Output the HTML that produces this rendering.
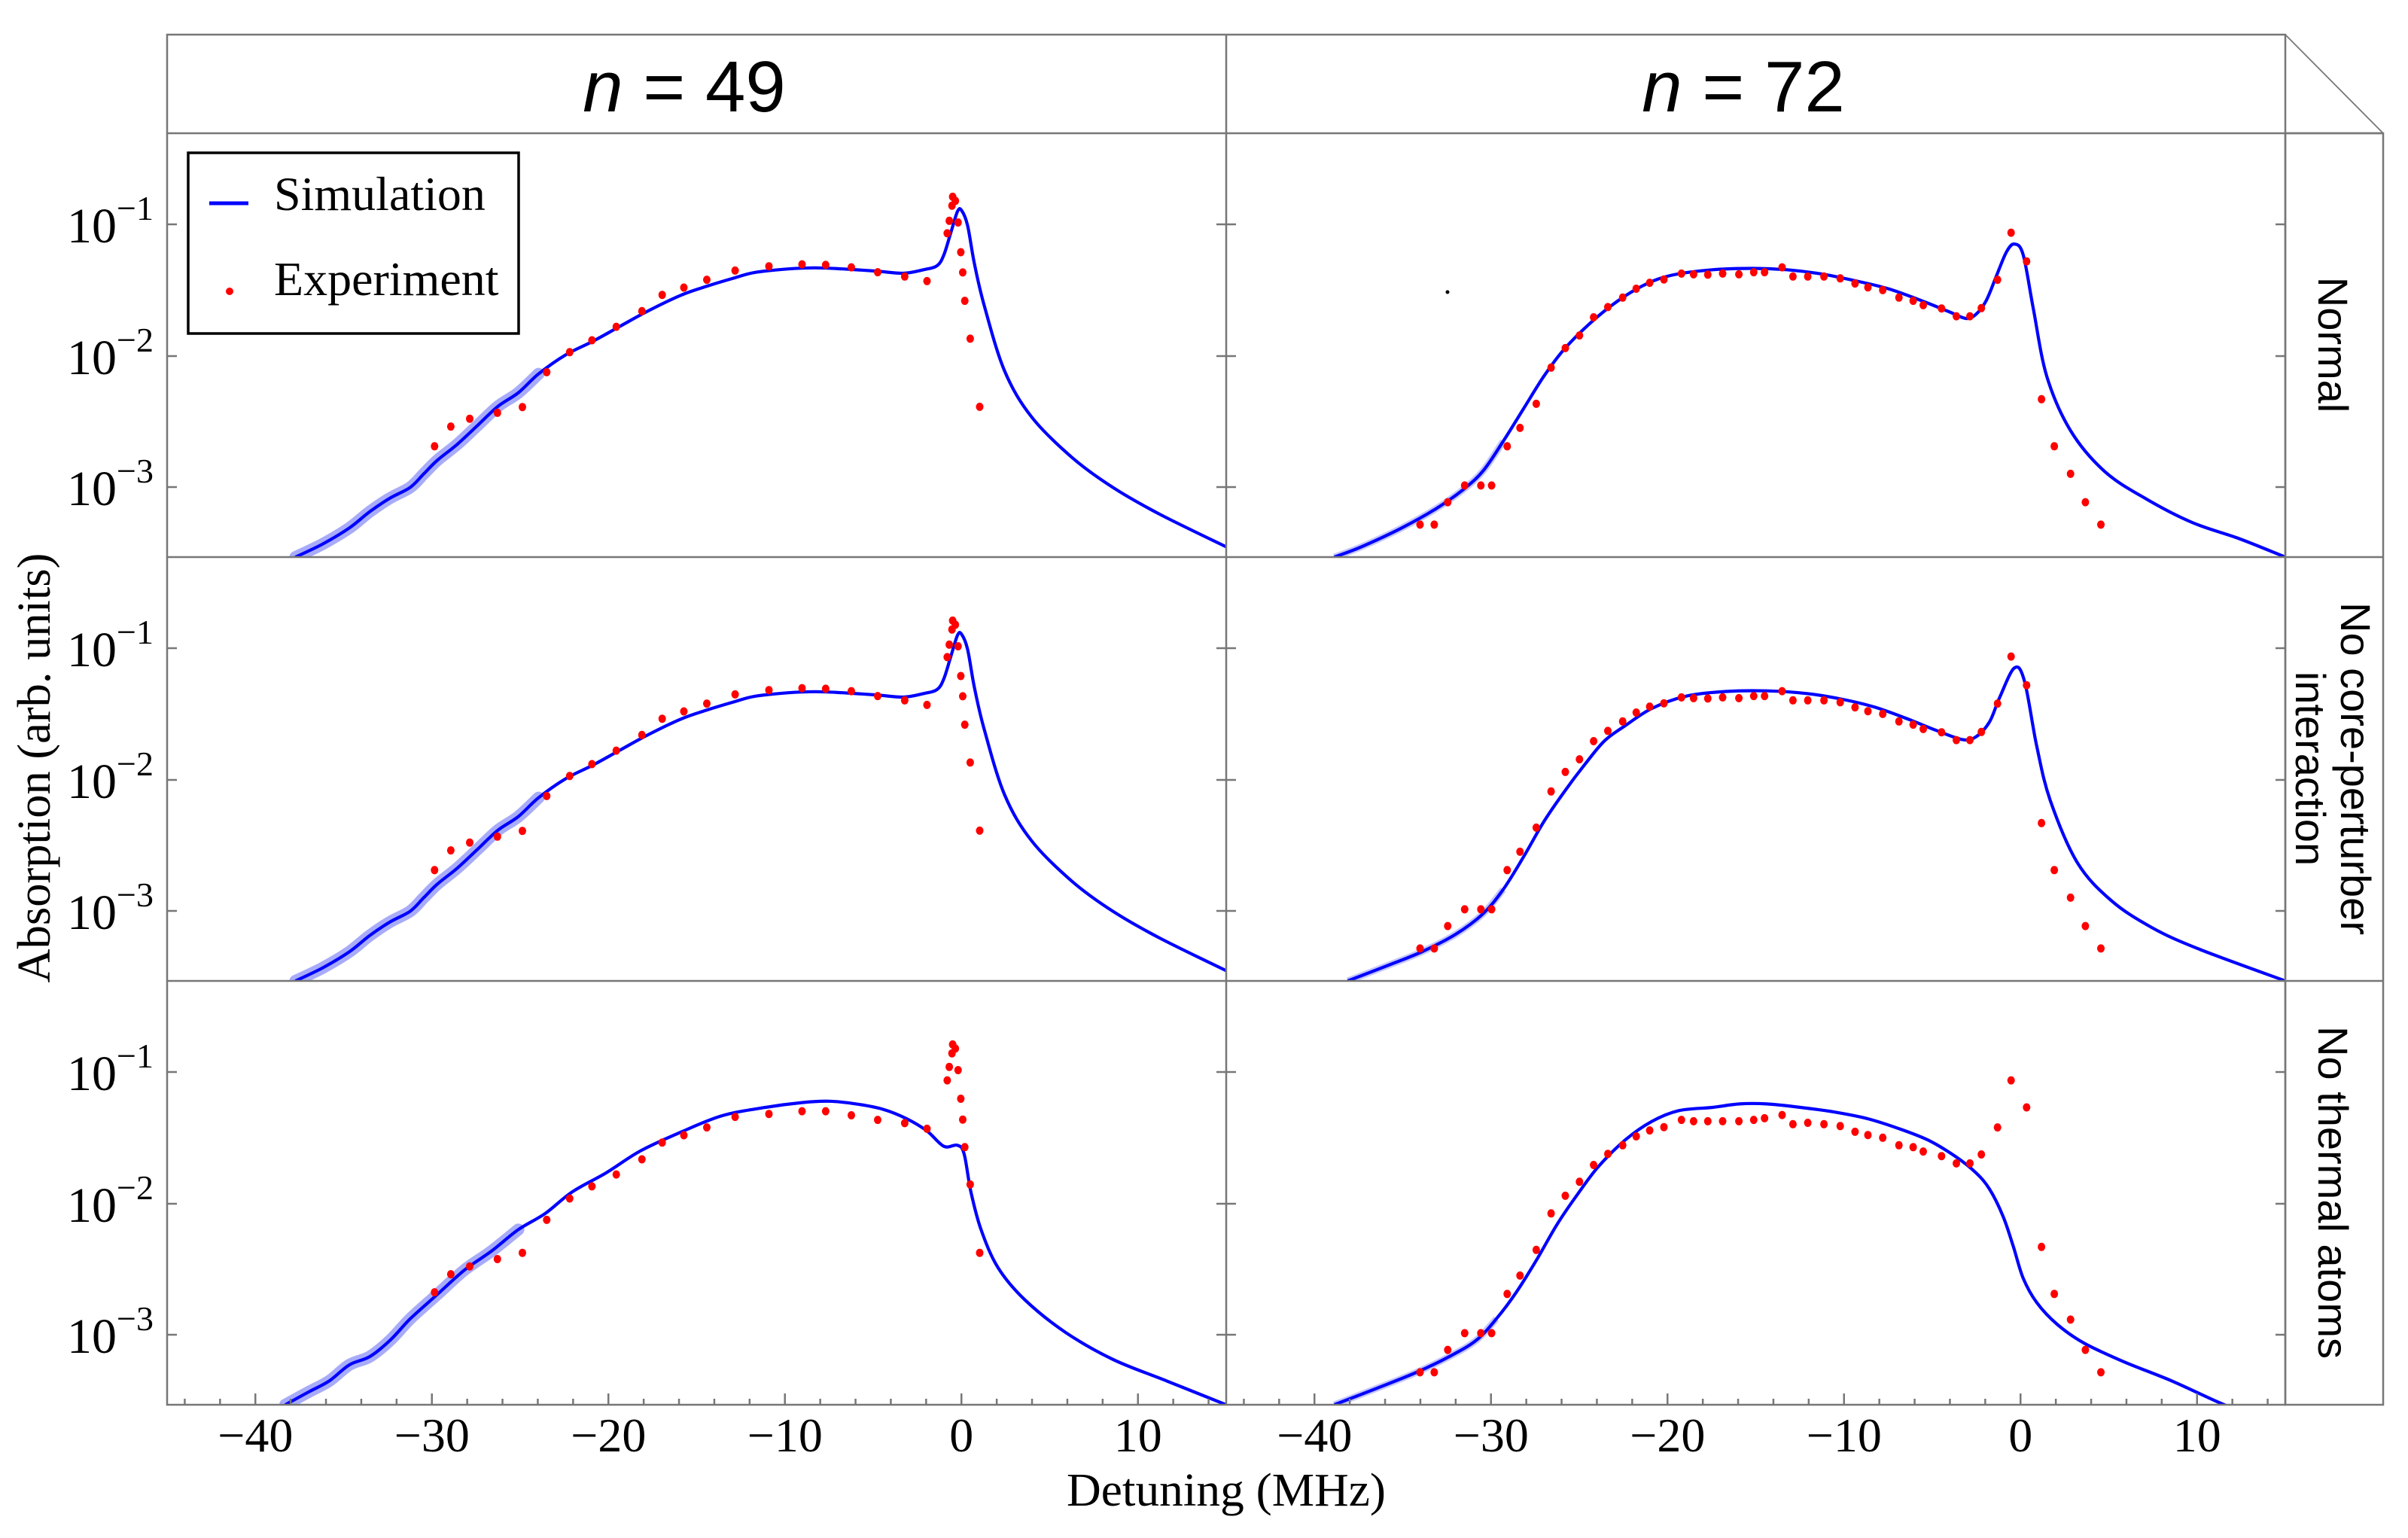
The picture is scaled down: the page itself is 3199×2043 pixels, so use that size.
<!DOCTYPE html>
<html><head><meta charset="utf-8"><style>
html,body{margin:0;padding:0;background:#fff;}
svg{display:block;}
</style></head><body>
<svg id="s" xmlns="http://www.w3.org/2000/svg" width="3199" height="2043" viewBox="0 0 3199 2043">
<rect x="0" y="0" width="3199" height="2043" fill="#fff"/>
<defs>
<clipPath id="c0"><rect x="222" y="177" width="1407" height="563"/></clipPath>
<clipPath id="c1"><rect x="1629" y="177" width="1407" height="563"/></clipPath>
<clipPath id="c2"><rect x="222" y="740" width="1407" height="563"/></clipPath>
<clipPath id="c3"><rect x="1629" y="740" width="1407" height="563"/></clipPath>
<clipPath id="c4"><rect x="222" y="1303" width="1407" height="563"/></clipPath>
<clipPath id="c5"><rect x="1629" y="1303" width="1407" height="563"/></clipPath>
</defs>
<g id="data"></g>
<g id="frame" stroke="#777" stroke-width="2.5" fill="none">
<rect x="222" y="46" width="2814" height="1820"/>
<line x1="222" y1="177" x2="3166" y2="177"/>
<line x1="1629" y1="46" x2="1629" y2="1866"/>
<line x1="222" y1="740" x2="3166" y2="740"/>
<line x1="222" y1="1303" x2="3166" y2="1303"/>
<rect x="3036" y="177" width="130" height="1689"/>
<line x1="3036" y1="46" x2="3166" y2="177" stroke-width="1.8"/>
</g>
<g id="ticks" stroke="#777" stroke-width="2.5"></g>
<g font-family="'Liberation Sans', sans-serif" font-size="96" text-anchor="middle" fill="#000">
<text x="909" y="148"><tspan font-style="italic">n</tspan> = 49</text>
<text x="2316" y="148"><tspan font-style="italic">n</tspan> = 72</text>
</g>
<g font-family="'Liberation Sans', sans-serif" font-size="56" text-anchor="middle" fill="#000">
<text transform="translate(3080,458) rotate(90)">Normal</text>
<text transform="translate(3110,1021) rotate(90)">No core-perturber</text>
<text transform="translate(3050,1021) rotate(90)">interaction</text>
<text transform="translate(3080,1584) rotate(90)">No thermal atoms</text>
</g>
<g id="ylab" font-family="'Liberation Serif', serif" fill="#000"></g>
<g font-family="'Liberation Serif', serif" fill="#000" font-size="62" text-anchor="middle">
<text x="1629" y="2000" textLength="424" lengthAdjust="spacingAndGlyphs">Detuning (MHz)</text>
<text transform="translate(66,1020) rotate(-90)" textLength="571" lengthAdjust="spacingAndGlyphs">Absorption (arb. units)</text>
</g>
<g>
<rect x="250" y="203" width="439" height="240" fill="#fff" stroke="#000" stroke-width="3.5"/>
<line x1="278" y1="270" x2="330" y2="270" stroke="#0000ff" stroke-width="5"/>
<circle cx="305" cy="387" r="5" fill="#ff0000"/>
<g font-family="'Liberation Serif', serif" font-size="64" fill="#000">
<text x="364" y="279">Simulation</text>
<text x="364" y="392">Experiment</text>
</g>
</g>
</svg>
<script>
(function(){
var NS="http://www.w3.org/2000/svg";
var W=1407,H=563,L=[222,1629],T=[177,740,1303];
function mk(t,a,p){var e=document.createElementNS(NS,t);for(var k in a)e.setAttribute(k,a[k]);p.appendChild(e);return e;}
function conv(pts,c,r){return pts.map(function(p){return [L[c]+p[0]*W/1568,T[r]+p[1]*H/1568];});}
function path(P){var d="M"+P[0][0].toFixed(1)+","+P[0][1].toFixed(1);
for(var i=0;i<P.length-1;i++){var p0=P[Math.max(0,i-1)],p1=P[i],p2=P[i+1],p3=P[Math.min(P.length-1,i+2)];
var c1=[p1[0]+(p2[0]-p0[0])/6,p1[1]+(p2[1]-p0[1])/6],c2=[p2[0]-(p3[0]-p1[0])/6,p2[1]-(p3[1]-p1[1])/6];
d+="C"+c1[0].toFixed(1)+","+c1[1].toFixed(1)+" "+c2[0].toFixed(1)+","+c2[1].toFixed(1)+" "+p2[0].toFixed(1)+","+p2[1].toFixed(1);}
return d;}
var g=document.getElementById("data");
var simL1=[[190,1568],[230,1520],[270,1460],[300,1400],[330,1350],[360,1310],[380,1260],[400,1210],[430,1150],[460,1080],[490,1010],[520,960],[550,890],[590,820],[630,770],[670,715],[710,660],[760,600],[800,565],[840,535],[870,515],[920,502],[960,498],[1000,502],[1050,510],[1090,518],[1120,505],[1140,490],[1150,450],[1160,370],[1170,290],[1176,285],[1185,340],[1195,480],[1210,640],[1240,880],[1280,1050],[1340,1200],[1400,1310],[1470,1410],[1568,1530]];
var expL1=[[396,1158],[420,1085],[448,1056],[489,1034],[526,1013],[562,884],[596,810],[629,766],[665,716],[703,658],[733,598],[765,571],[799,542],[841,508],[891,492],[940,485],[975,487],[1013,496],[1052,514],[1092,530],[1125,547],[1155,370],[1158,324],[1162,268],[1163,235],[1167,250],[1171,330],[1175,440],[1178,515],[1181,620],[1189,760],[1203,1012]];
var simR1=[[160,1568],[200,1530],[260,1460],[310,1390],[350,1320],[380,1250],[410,1140],[440,1020],[470,900],[500,800],[540,700],[580,620],[620,560],[660,525],[720,505],[780,500],[830,505],[880,520],[930,545],[980,575],[1030,620],[1070,660],[1095,685],[1110,670],[1125,620],[1140,530],[1155,440],[1167,410],[1180,450],[1195,650],[1215,900],[1250,1100],[1300,1250],[1360,1350],[1430,1440],[1500,1500],[1568,1568]];
var expR1=[[287,1448],[308,1448],[328,1365],[353,1303],[377,1303],[393,1303],[416,1158],[435,1090],[459,1001],[481,867],[502,795],[523,748],[544,681],[565,643],[587,608],[607,575],[627,553],[648,541],[674,519],[692,522],[713,523],[735,519],[759,522],[781,514],[797,514],[823,496],[839,530],[861,530],[885,530],[909,537],[931,556],[950,570],[972,580],[996,608],[1017,620],[1032,636],[1059,648],[1081,677],[1101,677],[1118,647],[1142,542],[1162,368],[1185,474],[1207,984],[1226,1158],[1250,1260],[1272,1365],[1295,1448]];
var simR2=[[180,1568],[240,1510],[290,1460],[340,1395],[380,1320],[410,1230],[440,1110],[470,980],[500,870],[530,770],[560,680],[590,625],[630,560],[680,515],[740,497],[800,495],[860,505],[910,525],[960,555],[1010,600],[1050,640],[1090,675],[1110,665],[1130,610],[1145,520],[1167,410],[1182,460],[1200,700],[1220,900],[1260,1130],[1310,1270],[1370,1370],[1440,1450],[1568,1568]];
var simL3=[[175,1568],[210,1520],[240,1480],[270,1420],[300,1390],[330,1330],[360,1250],[400,1160],[440,1070],[480,1000],[520,920],[560,860],[600,780],[650,710],[700,630],[760,560],[820,500],[880,470],[940,450],[980,445],[1020,455],[1060,475],[1095,510],[1125,555],[1150,612],[1170,608],[1180,640],[1190,780],[1205,920],[1230,1060],[1270,1180],[1330,1300],[1400,1400],[1480,1480],[1568,1568]];
var expL3=[[396,1152],[420,1085],[448,1056],[489,1029],[526,1006],[562,884],[596,805],[629,760],[665,716],[703,660],[733,598],[765,571],[799,542],[841,503],[891,492],[940,482],[975,482],[1013,497],[1052,514],[1092,526],[1125,547],[1155,368],[1158,318],[1162,268],[1163,235],[1167,250],[1171,330],[1175,436],[1178,513],[1181,615],[1189,753],[1203,1006]];
var simR3=[[160,1568],[220,1510],[280,1450],[330,1390],[370,1330],[400,1250],[430,1150],[460,1030],[490,900],[520,790],[550,690],[590,590],[630,520],[670,480],[720,468],[760,455],[800,455],[850,468],[900,485],[950,510],[1000,550],[1040,590],[1080,650],[1110,710],[1130,770],[1150,870],[1165,980],[1180,1100],[1200,1190],[1230,1270],[1270,1340],[1330,1410],[1400,1480],[1470,1560],[1520,1610]];
var expR3=[[287,1448],[308,1448],[328,1365],[353,1303],[377,1303],[393,1303],[416,1158],[435,1090],[459,995],[481,860],[502,795],[523,743],[544,681],[565,640],[587,608],[607,575],[627,553],[648,541],[674,514],[692,519],[713,519],[735,519],[759,519],[781,514],[797,508],[823,496],[839,530],[861,525],[885,530],[909,537],[931,558],[950,570],[972,580],[996,608],[1017,615],[1032,631],[1059,648],[1081,675],[1101,675],[1118,642],[1142,542],[1162,368],[1185,468],[1207,984],[1226,1158],[1250,1253],[1272,1365],[1295,1448]];
var panels=[[0,0,simL1,expL1,1],[1,0,simR1,expR1,0],[0,1,simL1,expL1,1],[1,1,simR2,expR1,0],[0,2,simL3,expL3,1],[1,2,simR3,expR3,0]];
panels.forEach(function(p,i){
var gg=mk("g",{"clip-path":"url(#c"+i+")"},g);
var P=conv(p[2],p[0],p[1]);
if(p[4]){var band=P.filter(function(q){return q[0]<L[p[0]]+560*W/1568;});
mk("path",{d:path(band),stroke:"#a8acf8",fill:"none","stroke-width":"16","stroke-linecap":"round"},gg);}
else{var band2=P.filter(function(q){return q[0]<L[p[0]]+420*W/1568;});
mk("path",{d:path(band2),stroke:"#c4c6fb",fill:"none","stroke-width":"9"},gg);}
mk("path",{d:path(P),stroke:"#0000ff",fill:"none","stroke-width":"4.2","stroke-linejoin":"round"},gg);
conv(p[3],p[0],p[1]).forEach(function(q){mk("ellipse",{cx:q[0].toFixed(1),cy:q[1].toFixed(1),rx:"5",ry:"5.5",fill:"#ff0000"},gg);});
});
mk("circle",{cx:"1923",cy:"388",r:"2.5",fill:"#000"},g);
var tg=document.getElementById("ticks");
var yt=[121,296,470];
for(var c=0;c<2;c++)for(var r=0;r<3;r++)yt.forEach(function(y){
var Y=T[r]+y;mk("line",{x1:L[c],y1:Y,x2:L[c]+13,y2:Y},tg);mk("line",{x1:L[c]+W-13,y1:Y,x2:L[c]+W,y2:Y},tg);});
for(var c2=0;c2<2;c2++)for(var d=-44;d<=14;d+=2){var X=L[c2]+(d+45)*W/60;var len=(d%10===0)?15:8;mk("line",{x1:X,y1:1866,x2:X,y2:1866-len},tg);}
var yl=document.getElementById("ylab");
for(var r2=0;r2<3;r2++)[1,2,3].forEach(function(k,j){
var Y=T[r2]+yt[j];
var t=mk("text",{x:"204",y:(Y+24).toFixed(0),"text-anchor":"end","font-size":"66"},yl);
t.textContent="10";var ts=mk("tspan",{dy:"-30","font-size":"46"},t);ts.textContent="\u2212"+k;});
for(var c3=0;c3<2;c3++)[-40,-30,-20,-10,0,10].forEach(function(d){
var X=L[c3]+(d+45)*W/60;var t=mk("text",{x:X.toFixed(1),y:"1928","text-anchor":"middle","font-size":"64"},yl);
t.textContent=(d<0?"\u2212"+(-d):""+d);});
})();
</script>
</body></html>
